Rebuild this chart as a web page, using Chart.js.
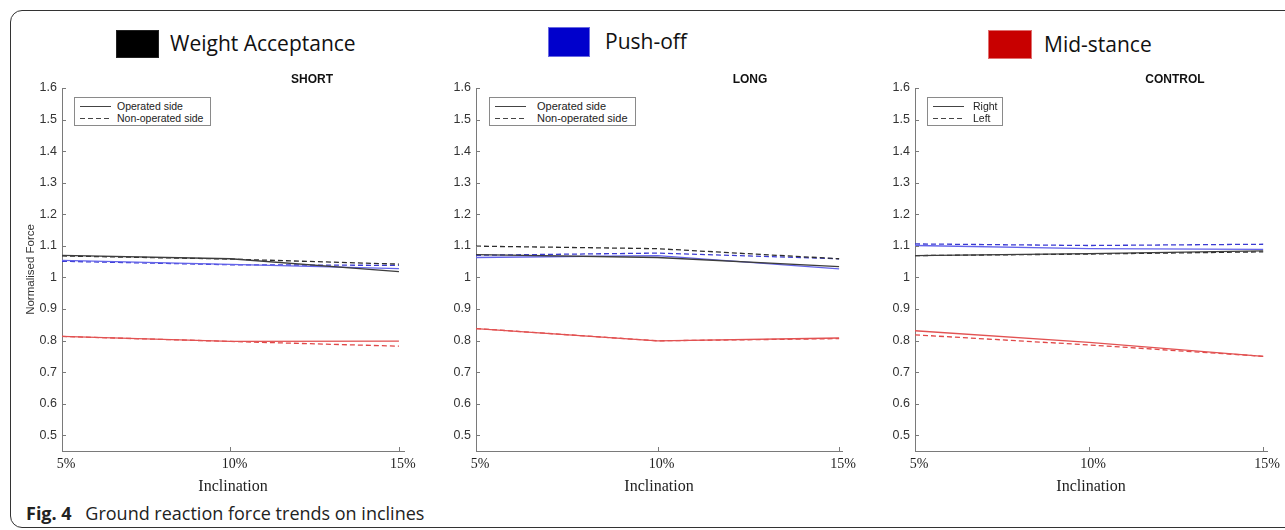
<!DOCTYPE html>
<html>
<head>
<meta charset="utf-8">
<script src="https://cdn.jsdelivr.net/npm/chart.js"></script>
<style>
html,body{margin:0;padding:0;background:#fff;}
body{width:1285px;height:530px;overflow:hidden;position:relative;font-family:"Liberation Sans",Arial,sans-serif;}
.frame{position:absolute;left:10px;top:10px;width:1300px;height:516px;border:1px solid #333;border-radius:12px;}
canvas.cv{position:absolute;}
.sq{position:absolute;}
.phase{position:absolute;font-family:"Open Sans",sans-serif;font-size:21px;line-height:28px;color:#111;white-space:nowrap;}
.leg{position:absolute;border:1px solid #8a8a8a;background:#fff;height:27px;}
.leg .row{position:absolute;left:0;height:12px;width:100%;}
.leg .smp{position:absolute;left:5px;top:6px;width:31px;height:1px;background:#444;}
.leg .smp.d{background:repeating-linear-gradient(90deg,#444 0 5px,transparent 5px 8px);}
.leg .tx{position:absolute;top:0;line-height:12px;font-size:10.5px;color:#222;white-space:nowrap;}
.caption{position:absolute;left:26px;top:501px;font-family:"Open Sans",sans-serif;font-size:18px;line-height:24px;color:#222;white-space:nowrap;}
.caption b{font-weight:700;margin-right:9px;}
</style>
</head>
<body>
<div class="frame"></div>
<div id="phases"></div>
<canvas class="cv" id="c1" width="419" height="430" style="left:10px;top:70px;"></canvas>
<canvas class="cv" id="c2" width="427" height="430" style="left:440px;top:70px;"></canvas>
<canvas class="cv" id="c3" width="402" height="430" style="left:880px;top:70px;"></canvas>
<div id="legs"></div>
<div class="caption"><b>Fig. 4</b> Ground reaction force trends on inclines</div>
<script>
// ---------------- DATA ----------------
const inclinations = [5, 10, 15];
const xTickLabels = ['5%', '10%', '15%'];
const yTicks = [0.5, 0.6, 0.7, 0.8, 0.9, 1.0, 1.1, 1.2, 1.3, 1.4, 1.5, 1.6];
const yTickLabels = ['0.5', '0.6', '0.7', '0.8', '0.9', '1', '1.1', '1.2', '1.3', '1.4', '1.5', '1.6'];

const phaseNames = ['Weight Acceptance', 'Push-off', 'Mid-stance'];
const panelTitles = ['SHORT', 'LONG', 'CONTROL'];
const sideLabels = ['Operated side', 'Non-operated side'];
const controlSideLabels = ['Right', 'Left'];

// SHORT
const shortWA_op  = [1.070, 1.059, 1.018];
const shortWA_non = [1.068, 1.058, 1.042];
const shortPO_op  = [1.054, 1.041, 1.028];
const shortPO_non = [1.051, 1.040, 1.038];
const shortMS_op  = [0.813, 0.797, 0.798];
const shortMS_non = [0.813, 0.797, 0.782];
// LONG
const longWA_op  = [1.072, 1.063, 1.034];
const longWA_non = [1.099, 1.091, 1.059];
const longPO_op  = [1.063, 1.069, 1.027];
const longPO_non = [1.070, 1.077, 1.059];
const longMS_op  = [0.838, 0.799, 0.808];
const longMS_non = [0.838, 0.799, 0.806];
// CONTROL
const ctrlWA_right = [1.069, 1.075, 1.084];
const ctrlWA_left  = [1.069, 1.074, 1.081];
const ctrlPO_right = [1.101, 1.091, 1.089];
const ctrlPO_left  = [1.106, 1.101, 1.105];
const ctrlMS_right = [0.831, 0.794, 0.750];
const ctrlMS_left  = [0.818, 0.786, 0.750];

// ---------------- STYLE ----------------
const C = {
  waSolid: '#3d3d3d', waDash: '#2e2e2e',
  poSolid: '#6464ea', poDash: '#3a3ad2',
  msSolid: '#e25252', msDash: '#e04848'
};
const phaseSwatch = [
  {color: '#000000', border: '#222', left: 116, top: 30, w: 43, h: 28, textLeft: 170, textTop: 29},
  {color: '#0000cc', border: '#6a6ae0', left: 548, top: 27, w: 42, h: 30, textLeft: 605, textTop: 27},
  {color: '#c80000', border: '#e07070', left: 988, top: 30, w: 44, h: 29, textLeft: 1044, textTop: 30}
];

// top phase legend
const ph = document.getElementById('phases');
phaseNames.forEach((n, i) => {
  const s = phaseSwatch[i];
  const sq = document.createElement('div');
  sq.className = 'sq';
  sq.style.cssText = `left:${s.left}px;top:${s.top}px;width:${s.w - 2}px;height:${s.h - 2}px;background:${s.color};border:1px solid ${s.border};`;
  ph.appendChild(sq);
  const t = document.createElement('div');
  t.className = 'phase';
  t.style.left = s.textLeft + 'px';
  t.style.top = s.textTop + 'px';
  t.textContent = n;
  ph.appendChild(t);
});

// inner legends
const legBoxes = [
  {left: 74, top: 97, w: 137, labels: sideLabels, textLeft: 42, fs: 10.5},
  {left: 489, top: 97, w: 147, labels: sideLabels, textLeft: 47, fs: 11},
  {left: 927, top: 97, w: 76, labels: controlSideLabels, textLeft: 45, fs: 10.5}
];
const legs = document.getElementById('legs');
legBoxes.forEach(b => {
  const box = document.createElement('div');
  box.className = 'leg';
  box.style.cssText = `left:${b.left}px;top:${b.top}px;width:${b.w - 2}px;`;
  b.labels.forEach((lab, i) => {
    const row = document.createElement('div');
    row.className = 'row';
    row.style.top = (2 + i * 12) + 'px';
    row.innerHTML = `<div class="smp${i ? ' d' : ''}"></div><div class="tx" style="left:${b.textLeft}px;font-size:${b.fs}px">${lab}</div>`;
    box.appendChild(row);
  });
  legs.appendChild(box);
});

// plugin: inward tick marks + panel title
const innerTicks = {
  id: 'innerTicks',
  afterDraw(chart, args, opts) {
    const ctx = chart.ctx, ca = chart.chartArea;
    const xs = chart.scales.x, ys = chart.scales.y;
    ctx.save();
    ctx.strokeStyle = '#7a7a7a';
    ctx.lineWidth = 1;
    ctx.beginPath();
    ys.ticks.forEach(t => {
      const py = Math.round(ys.getPixelForValue(t.value)) + 0.5;
      ctx.moveTo(ca.left, py); ctx.lineTo(ca.left + 4, py);
    });
    xs.ticks.forEach(t => {
      const px = Math.round(xs.getPixelForValue(t.value)) + 0.5;
      ctx.moveTo(px, ca.bottom); ctx.lineTo(px, ca.bottom - 4);
    });
    ctx.stroke();
    ctx.fillStyle = '#111';
    ctx.font = 'bold 12px "Liberation Sans", Arial, sans-serif';
    ctx.textAlign = 'center';
    ctx.textBaseline = 'middle';
    ctx.fillText(opts.title, ca.right - 92, ca.top - 8);
    ctx.restore();
  }
};

function ds(values, color, dashed) {
  return {
    data: inclinations.map((x, i) => ({x: x, y: values[i]})),
    borderColor: color,
    borderWidth: 1.3,
    borderDash: dashed ? [5, 3] : [],
    pointRadius: 0,
    tension: 0,
    fill: false
  };
}

function makeChart(id, datasets, cfg) {
  return new Chart(document.getElementById(id), {
    type: 'line',
    data: {datasets: datasets},
    options: {
      responsive: false,
      animation: false,
      events: [],
      layout: {padding: {left: 0, right: cfg.padRight, top: 18, bottom: 0}},
      plugins: {
        legend: {display: false},
        tooltip: {enabled: false},
        innerTicks: {title: cfg.title}
      },
      scales: {
        x: {
          type: 'linear',
          min: 5,
          max: cfg.xMax,
          afterBuildTicks: s => { s.ticks = inclinations.map(v => ({value: v})); },
          afterFit: s => { s.height = 49; },
          ticks: {
            callback: (v, i) => xTickLabels[i],
            font: {family: '"Liberation Serif", "Times New Roman", serif', size: 14},
            color: '#222',
            padding: 5,
            labelOffset: 4,
            maxRotation: 0,
            autoSkip: false
          },
          grid: {display: true, drawOnChartArea: false, drawTicks: false},
          border: {display: true, color: '#7a7a7a', width: 1},
          title: {
            display: true,
            text: 'Inclination',
            font: {family: '"Liberation Serif", "Times New Roman", serif', size: 16},
            color: '#222',
            padding: {top: 0, bottom: 4}
          }
        },
        y: {
          min: 0.45,
          max: 1.6,
          afterBuildTicks: s => { s.ticks = yTicks.map(v => ({value: v})); },
          afterFit: s => { s.width = cfg.yWidth; },
          ticks: {
            callback: (v, i) => yTickLabels[i],
            font: {family: '"Liberation Sans", Arial, sans-serif', size: 12.5},
            color: '#333',
            padding: 5,
            autoSkip: false
          },
          grid: {display: true, drawOnChartArea: false, drawTicks: false},
          border: {display: true, color: '#7a7a7a', width: 1},
          title: {
            display: !!cfg.yTitle,
            text: cfg.yTitle || '',
            font: {family: '"Liberation Sans", Arial, sans-serif', size: 11.5},
            color: '#333',
            padding: {top: 14, bottom: 0}
          }
        }
      }
    },
    plugins: [innerTicks]
  });
}

makeChart('c1', [
  ds(shortWA_op, C.waSolid, false), ds(shortWA_non, C.waDash, true),
  ds(shortPO_op, C.poSolid, false), ds(shortPO_non, C.poDash, true),
  ds(shortMS_op, C.msSolid, false), ds(shortMS_non, C.msDash, true)
], {title: panelTitles[0], xMax: 15.15, yWidth: 52, padRight: 25, yTitle: 'Normalised Force'});

makeChart('c2', [
  ds(longWA_op, C.waSolid, false), ds(longWA_non, C.waDash, true),
  ds(longPO_op, C.poSolid, false), ds(longPO_non, C.poDash, true),
  ds(longMS_op, C.msSolid, false), ds(longMS_non, C.msDash, true)
], {title: panelTitles[1], xMax: 15.08, yWidth: 36, padRight: 25});

makeChart('c3', [
  ds(ctrlWA_right, C.waSolid, false), ds(ctrlWA_left, C.waDash, true),
  ds(ctrlPO_right, C.poSolid, false), ds(ctrlPO_left, C.poDash, true),
  ds(ctrlMS_right, C.msSolid, false), ds(ctrlMS_left, C.msDash, true)
], {title: panelTitles[2], xMax: 15.11, yWidth: 35, padRight: 15});
</script>
</body>
</html>
